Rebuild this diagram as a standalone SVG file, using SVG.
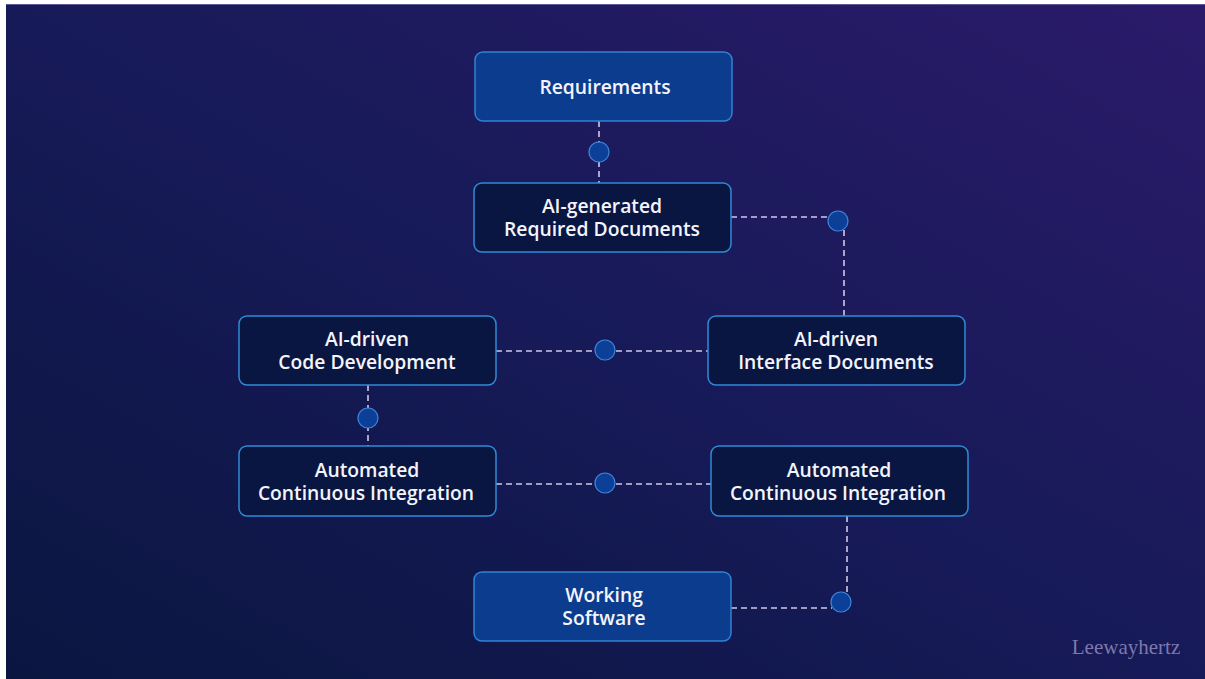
<svg xmlns="http://www.w3.org/2000/svg" width="1205" height="679" viewBox="0 0 1205 679">
<defs>
<linearGradient id="bg" x1="0" y1="1" x2="1" y2="0">
<stop offset="0" stop-color="#0a1640"/>
<stop offset="0.5" stop-color="#171a58"/>
<stop offset="1" stop-color="#2b1a6a"/>
</linearGradient>
<style>
.dark{fill:#0a1642;stroke:#2f8ad8;stroke-width:1.5}
.blue{fill:#0c3c8e;stroke:#2f82d4;stroke-width:1.5}
.lbl{font-family:"Open Sans","Liberation Sans",sans-serif;font-weight:600;font-size:19.3px;fill:#f4f4fa;text-anchor:middle}
.dash{fill:none;stroke:#cfc8e6;stroke-width:1.6;stroke-dasharray:6 4}
.dot{fill:#0c3f98;stroke:#3f85d6;stroke-width:1.2}
</style>
</defs>
<rect width="1205" height="679" fill="#ffffff"/>
<rect x="6" y="4" width="1199" height="675" fill="url(#bg)"/>
<line x1="6" y1="4.5" x2="1205" y2="4.5" stroke="#5a5a9a" stroke-width="1"/>
<g id="connectors">
<line class="dash" x1="599" y1="121" x2="599" y2="183"/>
<circle class="dot" cx="599" cy="152" r="10"/>
<polyline class="dash" points="731,217 830,217"/>
<line class="dash" x1="844" y1="230" x2="844" y2="316"/>
<circle class="dot" cx="838" cy="221" r="10"/>
<line class="dash" x1="496" y1="351" x2="708" y2="351"/>
<circle class="dot" cx="605" cy="350" r="10"/>
<line class="dash" x1="368" y1="385" x2="368" y2="446"/>
<circle class="dot" cx="368" cy="418" r="10"/>
<line class="dash" x1="496" y1="484" x2="711" y2="484"/>
<circle class="dot" cx="605" cy="483" r="10"/>
<line class="dash" x1="847" y1="516" x2="847" y2="594"/>
<line class="dash" x1="731" y1="608" x2="832" y2="608"/>
<circle class="dot" cx="841" cy="602" r="10"/>
</g>
<g id="requirements">
<rect class="blue" x="475" y="52" width="257" height="69" rx="8"/>
<text class="lbl" x="605" y="94">Requirements</text>
</g>
<g id="ai-generated-docs">
<rect class="dark" x="474" y="183" width="257" height="69" rx="8"/>
<text class="lbl" x="602" y="213">AI-generated</text>
<text class="lbl" x="602" y="236">Required Documents</text>
</g>
<g id="ai-code-dev">
<rect class="dark" x="239" y="316" width="257" height="69" rx="8"/>
<text class="lbl" x="367" y="346">AI-driven</text>
<text class="lbl" x="367" y="369">Code Development</text>
</g>
<g id="ai-interface-docs">
<rect class="dark" x="708" y="316" width="257" height="69" rx="8"/>
<text class="lbl" x="836" y="346">AI-driven</text>
<text class="lbl" x="836" y="369">Interface Documents</text>
</g>
<g id="auto-ci-left">
<rect class="dark" x="239" y="446" width="257" height="70" rx="8"/>
<text class="lbl" x="367" y="477">Automated</text>
<text class="lbl" x="366" y="500">Continuous Integration</text>
</g>
<g id="auto-ci-right">
<rect class="dark" x="711" y="446" width="257" height="70" rx="8"/>
<text class="lbl" x="839" y="477">Automated</text>
<text class="lbl" x="838" y="500">Continuous Integration</text>
</g>
<g id="working-software">
<rect class="blue" x="474" y="572" width="257" height="69" rx="8"/>
<text class="lbl" x="604" y="602">Working</text>
<text class="lbl" x="604" y="625">Software</text>
</g>
<text x="1126" y="654" font-family="'Liberation Serif',serif" font-size="21" fill="#7d78ad" text-anchor="middle">Leewayhertz</text>
</svg>
